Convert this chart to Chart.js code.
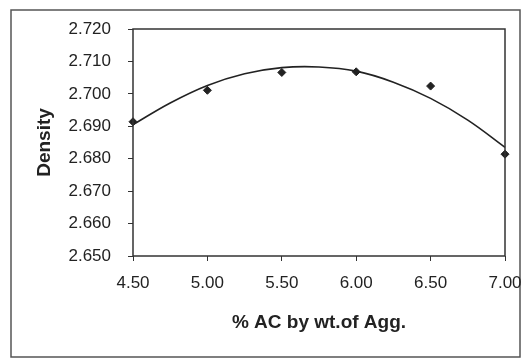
<!DOCTYPE html>
<html>
<head>
<meta charset="utf-8">
<script src="https://cdn.jsdelivr.net/npm/chart.js@4"></script>
<style>
  html, body { margin: 0; padding: 0; background: #fff; }
  #wrap { width: 525px; height: 360px; }
</style>
</head>
<body>
<div id="wrap"><canvas id="chart" width="525" height="360"></canvas></div>
<script>
// --- Data ---
const acContent = [4.50, 5.00, 5.50, 6.00, 6.50, 7.00];
const density = [2.6914, 2.7011, 2.7066, 2.7068, 2.7024, 2.6814];

// polynomial trend line
const trendAc = [4.50, 4.75, 5.00, 5.25, 5.50, 5.75, 6.00, 6.25, 6.50, 6.75, 7.00];
const trendDensity = [2.6905, 2.6972, 2.7026, 2.7062, 2.7081, 2.7083, 2.7070, 2.7036, 2.6986, 2.6919, 2.6835];

const acTicks = [4.50, 5.00, 5.50, 6.00, 6.50, 7.00];
const densityTicks = [2.650, 2.660, 2.670, 2.680, 2.690, 2.700, 2.710, 2.720];

const FONT = "'Liberation Sans', Arial, sans-serif";
const INK = '#222';

// frame round the whole picture and box round the plot
const framePlugin = {
    id: 'frames',
    beforeDraw(chart) {
        const ctx = chart.ctx;
        ctx.save();
        ctx.fillStyle = '#fff';
        ctx.fillRect(0, 0, chart.width, chart.height);
        ctx.strokeStyle = '#555';
        ctx.lineWidth = 1.5;
        ctx.strokeRect(11, 10, 509, 347);
        ctx.restore();
    },
    afterDatasetsDraw(chart) {
        const {ctx, chartArea: a} = chart;
        ctx.save();
        ctx.strokeStyle = '#333';
        ctx.lineWidth = 1.5;
        ctx.strokeRect(a.left, a.top, a.right - a.left, a.bottom - a.top);
        ctx.restore();
    }
};

new Chart(document.getElementById('chart').getContext('2d'), {
    type: 'scatter',
    data: {
        datasets: [
            {
                label: 'Trend',
                type: 'line',
                data: trendAc.map((x, i) => ({x: x, y: trendDensity[i]})),
                borderColor: INK,
                borderWidth: 1.6,
                pointRadius: 0,
                tension: 0.4,
                fill: false,
                clip: false
            },
            {
                label: 'Density',
                data: acContent.map((x, i) => ({x: x, y: density[i]})),
                pointStyle: 'rectRot',
                pointRadius: 4,
                backgroundColor: INK,
                borderColor: INK,
                borderWidth: 1,
                clip: false
            }
        ]
    },
    options: {
        responsive: false,
        animation: false,
        layout: { padding: { top: 29, right: 20, left: 0, bottom: 0 } },
        plugins: {
            legend: { display: false },
            tooltip: { enabled: false }
        },
        scales: {
            x: {
                type: 'linear',
                min: 4.5,
                max: 7.0,
                afterBuildTicks: s => { s.ticks = acTicks.map(v => ({value: v})); },
                afterFit: s => { s.height = 104; s.paddingRight = 0; s.paddingLeft = 0; },
                grid: { drawOnChartArea: false, drawTicks: true, tickLength: 5, color: '#333' },
                border: { display: false },
                ticks: {
                    padding: 12,
                    color: INK,
                    font: { family: FONT, size: 17 },
                    maxRotation: 0,
                    callback: v => Number(v).toFixed(2)
                },
                title: {
                    display: true,
                    text: '% AC by wt.of Agg.',
                    color: INK,
                    font: { family: FONT, size: 19, weight: 'bold' },
                    padding: { top: 0, bottom: 26 }
                }
            },
            y: {
                min: 2.65,
                max: 2.72,
                afterBuildTicks: s => { s.ticks = densityTicks.map(v => ({value: v})); },
                afterFit: s => { s.width = 133; s.paddingTop = 0; s.paddingBottom = 0; },
                grid: { drawOnChartArea: false, drawTicks: true, tickLength: 5, color: '#333' },
                border: { display: false },
                ticks: {
                    padding: 17,
                    color: INK,
                    font: { family: FONT, size: 17 },
                    callback: v => Number(v).toFixed(3)
                },
                title: {
                    display: true,
                    text: 'Density',
                    color: INK,
                    font: { family: FONT, size: 19, weight: 'bold' },
                    padding: { top: 33, bottom: 0 }
                }
            }
        }
    },
    plugins: [framePlugin]
});
</script>
</body>
</html>
